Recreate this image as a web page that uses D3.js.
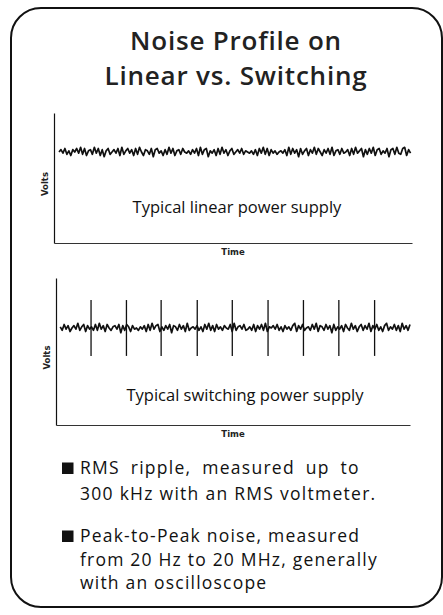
<!DOCTYPE html>
<html>
<head>
<meta charset="utf-8">
<script src="https://cdn.jsdelivr.net/npm/d3@7"></script>
<style>
  body { margin: 0; background: #fff; }
  svg { display: block; }
</style>
</head>
<body>
<div id="chart"></div>
<script>
// noise, in small steps around the DC level
var linearNoise = [0, 2, -1, 3, -2, 1, -3, 2, 0, 3, -1, 4, -2, 3, -3, 1, 2, -2, 4, -1,
  3, -3, 2, -4, 1, 3, -2, 0, 2, -1, 3, -3, 4, -2, 1, 3, -1, 2, -3, 3,
  -2, 4, 0, -3, 2, 1, -2, 3, -4, 2, 3, -1, 1, -3, 2, -2, 4, -1, 3, -3,
  1, 2, -2, 3, 0, -1, 1, -2, 2, -1, 3, -3, 4, -2, 2, 3, -4, 1, -1, 2,
  -3, 3, -2, 4, -1, 2, -3, 1, 3, -2, 0, 2, -1, 3, -2, 1, 0, -1, 1, -2,
  2, -3, 3, -1, 4, -2, 3, -3, 2, -1, 1, -2, 0, 1, -1, 2, -3, 4, -2, 3,
  -1, 2, -4, 3, -2, 1, 3, -3, 2, -1, 4, -2, 3, 0, -3, 2, -1, 3, -2, 4,
  -3, 1, 2, -2, 3, -1, 0, 2, -3, 3, -2, 4, -1, 1, 3, -4, 2, -2, 3, -1,
  4, -3, 2, 3, -2, 1, -1, 3, -4, 2, 3, -2, 4, -1, -2, 3, 4, -3, 2, -1];
var switchingNoise = [1, -2, 3, -1, 2, -3, 0, 2, -1, 4, -2, 1, 3, -3, 2, -1, 1, -2, 3, -2,
  4, -1, 2, -3, 3, 0, -2, 1, 2, -1, 3, -4, 2, -2, 3, 1, -3, 2, -1, 0,
  -2, 1, -1, 2, -3, 3, -2, 4, -1, 2, 3, -3, 1, -2, 2, -1, 3, -4, 2, 1,
  -2, 3, -1, 2, -3, 4, -2, 0, 1, -1, 2, -2, 1, -3, 3, -1, 4, -2, 2, -3,
  3, -1, 1, -2, 2, 0, -1, 3, -3, 4, -2, 1, 2, -1, 3, -2, -1, 1, -2, 3,
  -3, 2, -1, 3, -2, 4, -3, 1, 0, 2, -1, 3, -2, 1, -3, 2, -1, 1, -2, 2,
  4, -3, 2, -1, 3, -2, 0, 1, -2, 3, -1, 4, -3, 2, 1, -2, 3, -1, 2, -4,
  3, -2, 1, -1, 2, -3, 3, 0, -2, 4, -1, 2, -3, 1, 3, -2, 2, -1, 4, -3,
  2, -1, 3, -2, 1, -3, 2, 4, -2, 1, -1, 3, -2, 2, -3, 4, -1, 2, -2, 3];
// switching spikes: time positions (0-100 of the sweep)
var spikeTimes = [9.9, 19.9, 29.7, 39.9, 49.8, 59.9, 69.9, 79.9, 90.0];
var spikeHeight = [1.9, -1.9];

var titleLines = ["Noise Profile on", "Linear vs. Switching"];
var chartLabels = ["Typical linear power supply", "Typical switching power supply"];
var axisLabels = ["Volts", "Time"];
var bullets = [
  ["RMS ripple, measured up to", "300 kHz with an RMS voltmeter."],
  ["Peak-to-Peak noise, measured", "from 20 Hz to 20 MHz, generally", "with an oscilloscope"]
];

var width = 443, height = 615;
var svg = d3.select("#chart").append("svg")
  .attr("width", width).attr("height", height);

svg.append("rect")
  .attr("x", 11).attr("y", 8)
  .attr("width", 431).attr("height", 599)
  .attr("rx", 30).attr("ry", 30)
  .attr("fill", "none").attr("stroke", "#111").attr("stroke-width", 2);

svg.append("g").selectAll("text")
  .data(titleLines)
  .enter().append("text")
    .attr("x", 236)
    .attr("y", function(d, i) { return 50 + i * 35; })
    .attr("text-anchor", "middle")
    .attr("font-family", "Open Sans, sans-serif")
    .attr("font-weight", 600)
    .attr("font-size", 26)
    .attr("letter-spacing", 0.8)
    .attr("fill", "#222")
    .text(function(d) { return d; });

var panels = [
  { left: 54, right: 412, top: 113, bottom: 243, level: 7.0, amp: 0.09, noise: linearNoise, t0: 1.4, t1: 99.6,
    label: chartLabels[0], labelX: 237, labelY: 213, spikes: [] },
  { left: 56, right: 410, top: 278, bottom: 425, level: 6.6, amp: 0.08, noise: switchingNoise, t0: 1.2, t1: 100,
    label: chartLabels[1], labelX: 245, labelY: 401, spikes: spikeTimes }
];

panels.forEach(function(p) {
  var x = d3.scaleLinear().domain([0, 100]).range([p.left, p.right]);
  var y = d3.scaleLinear().domain([0, 10]).range([p.bottom, p.top]);
  var g = svg.append("g");

  g.append("g")
    .attr("transform", "translate(" + p.left + ",0)")
    .call(d3.axisLeft(y).ticks(0).tickSize(0))
    .call(function(a) { a.select(".domain").attr("stroke", "#111").attr("stroke-width", 1.2); });
  g.append("g")
    .attr("transform", "translate(0," + p.bottom + ")")
    .call(d3.axisBottom(x).ticks(0).tickSize(0))
    .call(function(a) { a.select(".domain").attr("stroke", "#333").attr("stroke-width", 1.2); });

  var step = (p.t1 - p.t0) / (p.noise.length - 1);
  var pts = p.noise.map(function(v, i) { return [p.t0 + i * step, p.level + v * p.amp]; });

  g.append("path")
    .datum(pts)
    .attr("fill", "none")
    .attr("stroke", "#111")
    .attr("stroke-width", 1.7)
    .attr("stroke-linejoin", "round")
    .attr("d", d3.line().x(function(d) { return x(d[0]); }).y(function(d) { return y(d[1]); }));

  g.append("g").selectAll("line")
    .data(p.spikes)
    .enter().append("line")
      .attr("x1", function(d) { return x(d); })
      .attr("x2", function(d) { return x(d); })
      .attr("y1", y(p.level + spikeHeight[0]))
      .attr("y2", y(p.level + spikeHeight[1]))
      .attr("stroke", "#111")
      .attr("stroke-width", 1.3);

  g.append("text")
    .attr("x", p.labelX).attr("y", p.labelY)
    .attr("text-anchor", "middle")
    .attr("font-family", "Open Sans, sans-serif")
    .attr("font-size", 16.5)
    .attr("fill", "#111")
    .text(p.label);

  g.append("text")
    .attr("transform", "translate(" + (p.left - 6) + "," + ((p.top + p.bottom) / 2 + 6) + ") rotate(-90)")
    .attr("text-anchor", "middle")
    .attr("font-family", "DejaVu Sans, sans-serif")
    .attr("font-weight", "bold")
    .attr("font-size", 8.5)
    .attr("fill", "#222")
    .text(axisLabels[0]);

  g.append("text")
    .attr("x", (p.left + p.right) / 2 + 0)
    .attr("y", p.bottom + 12)
    .attr("text-anchor", "middle")
    .attr("font-family", "DejaVu Sans, sans-serif")
    .attr("font-weight", "bold")
    .attr("font-size", 8.5)
    .attr("fill", "#222")
    .text(axisLabels[1]);
});

var by = [474, 542];
var lineGap = [26, 23.5];
var spacing = [1.27, 1.2];
bullets.forEach(function(lines, bi) {
  svg.append("rect")
    .attr("x", 62).attr("y", by[bi] - 11.5)
    .attr("width", 11.5).attr("height", 11.5)
    .attr("fill", "#111");
  svg.append("g").selectAll("text")
    .data(lines)
    .enter().append("text")
      .attr("x", 80)
      .attr("y", function(d, i) { return by[bi] + i * lineGap[bi]; })
      .attr("font-family", "Open Sans, sans-serif")
      .attr("font-size", 17.5)
      .attr("letter-spacing", spacing[bi])
      .attr("word-spacing", function(d, i) { return bi === 0 && i === 0 ? 5 : 0; })
      .attr("fill", "#111")
      .text(function(d) { return d; });
});
</script>
</body>
</html>
